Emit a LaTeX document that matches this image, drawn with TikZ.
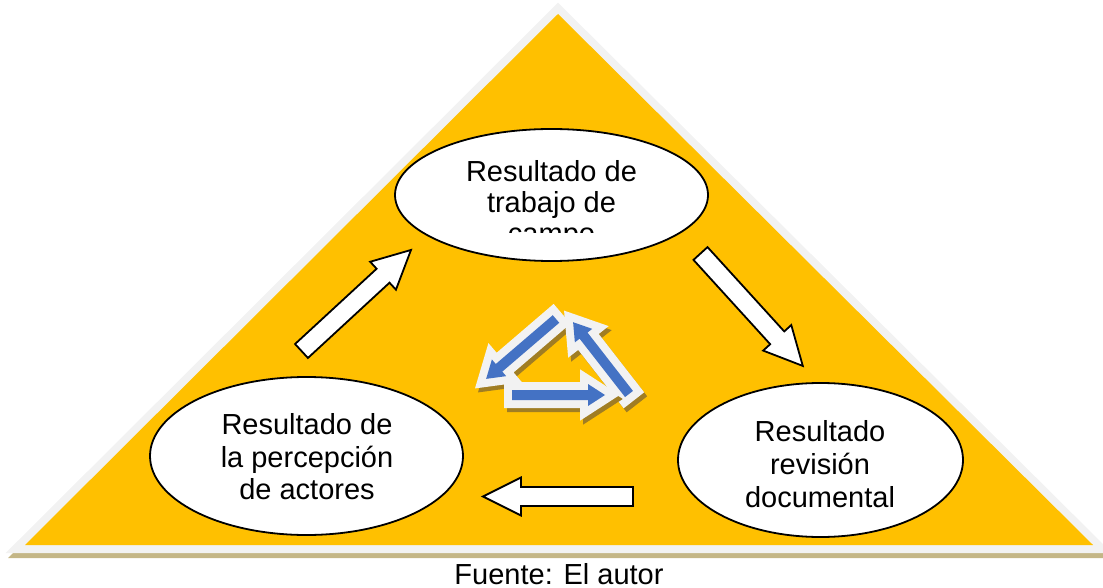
\documentclass[tikz,border=0pt]{standalone}
\usepackage{fontspec}
\setmainfont{Liberation Sans}
\usetikzlibrary{shapes.geometric}
\definecolor{tri}{HTML}{FFC000}
\definecolor{rim}{HTML}{F2F2F2}
\definecolor{tanshade}{RGB}{196,182,134}
\definecolor{cblue}{HTML}{4472C4}
\definecolor{cshadow}{RGB}{160,125,35}

\newcommand\blockarr[4]{%
  \begin{scope}[shift={(#1,#2)}, rotate=#3]
    \draw[bigarrow] (0,-9.5) -- (#4-38,-9.5) -- (#4-38,-19) -- (#4,0) -- (#4-38,19) -- (#4-38,9.5) -- (0,9.5) -- cycle;
  \end{scope}}

\newcommand\cycarr[4]{%
  \begin{scope}[shift={(#1+3,#2+4)}, rotate=#3]
    \filldraw[cshadow, line width=16pt, line join=miter] (0,-5) -- (#4-17,-5) -- (#4-17,-11) -- (#4,0) -- (#4-17,11) -- (#4-17,5) -- (0,5) -- cycle;
  \end{scope}
  \begin{scope}[shift={(#1,#2)}, rotate=#3]
    \filldraw[rim, line width=16pt, line join=miter] (0,-5) -- (#4-17,-5) -- (#4-17,-11) -- (#4,0) -- (#4-17,11) -- (#4-17,5) -- (0,5) -- cycle;
    \fill[cblue] (0,-5) -- (#4-17,-5) -- (#4-17,-11) -- (#4,0) -- (#4-17,11) -- (#4-17,5) -- (0,5) -- cycle;
  \end{scope}}

\begin{document}
\begin{tikzpicture}[x=1pt,y=-1pt,
  bubble/.style={ellipse, draw=black, line width=1.8pt, fill=white, inner sep=0pt},
  lbl/.style={align=center, inner sep=0pt},
  bigarrow/.style={draw=black, line width=1.8pt, fill=white, line join=miter}]
\useasboundingbox (0,0) rectangle (1103,588);

% triangle with rim and shadow
\fill[tanshade] (13,553) -- (1103,553) -- (1103,558) -- (8,558) -- cycle;
\fill[rim] (558,2.7) -- (5.7,553) -- (1112,553) -- cycle;
\fill[tri] (558,14) -- (25,545) -- (1093,545) -- cycle;

% ellipses
\node[bubble, minimum width=313pt, minimum height=132pt] (top) at (551.5,195) {};
\node[bubble, minimum width=313pt, minimum height=158pt] (left) at (306.5,456) {};
\node[bubble, minimum width=285pt, minimum height=154pt] (right) at (820.5,460) {};

\begin{scope}
  \clip (0,0) rectangle (1103,233);
  \node[lbl, font=\fontsize{29}{31}\selectfont] (toptxt) at (551.5,205.5) {Resultado de\\trabajo de\\campo};
\end{scope}
\node[lbl, font=\fontsize{29}{32.5}\selectfont] (lefttxt) at (307,457) {Resultado de\\la percepción\\de actores};
\node[lbl, font=\fontsize{29}{33}\selectfont] (righttxt) at (820,464.5) {Resultado\\revisión\\documental};

% outer block arrows
\blockarr{301.5}{351}{42.7}{149}
\blockarr{700.5}{253.5}{-47.7}{152}
\blockarr{633}{496.5}{180}{150}

% central cycle arrows
\cycarr{556}{319}{-139.4}{92}
\cycarr{629}{394}{127.9}{91}
\cycarr{512}{395}{0}{93}

\node[font=\fontsize{29}{32}\selectfont, anchor=base, inner sep=0pt] (src) at (559,584) {Fuente: El autor};
\end{tikzpicture}
\end{document}
